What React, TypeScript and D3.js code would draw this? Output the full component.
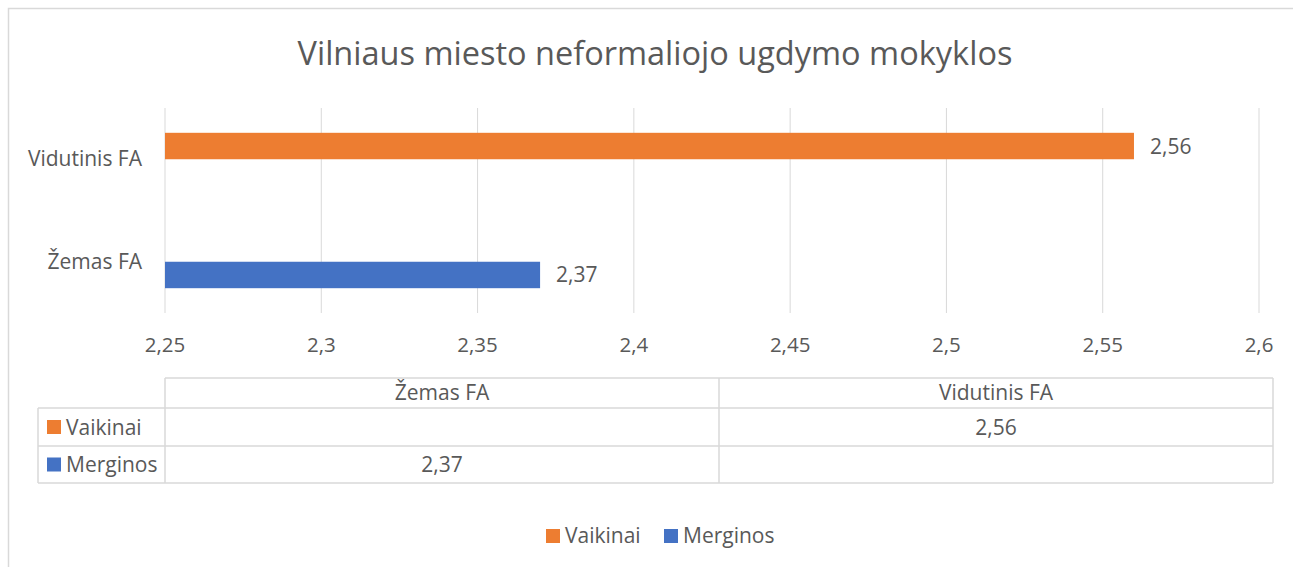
import React from "react";
import * as d3 from "d3";

const title = "Vilniaus miesto neformaliojo ugdymo mokyklos";
const categories = ["Žemas FA", "Vidutinis FA"];
const seriesNames = ["Vaikinai", "Merginos"];
const vaikinai: (number | null)[] = [null, 2.56];
const merginos: (number | null)[] = [2.37, null];
const tickValues = [2.25, 2.3, 2.35, 2.4, 2.45, 2.5, 2.55, 2.6];
const colors = ["#ED7D31", "#4472C4"];

const locale = d3.formatLocale({ decimal: ",", thousands: " ", grouping: [3], currency: ["", "€"] });
const fmt = locale.format("~g");

const FONT = "'Open Sans', 'Noto Sans', sans-serif";
const TXT = "#595959";
const GRID = "#D9D9D9";
const FS = 21;

export default function App() {
  const series = [vaikinai, merginos];
  const x = d3.scaleLinear().domain([2.25, 2.6]).range([165, 1259]);
  const y = d3.scaleBand().domain([...categories].reverse()).range([108, 313]);
  const bw = y.bandwidth();
  const inner = d3.scaleBand().domain(seriesNames).range([bw * 0.242, bw * 0.758]);

  const tLeft = 38, tColStart = 165, tRight = 1273;
  const rowTops = [378, 408, 446, 483];
  const col = d3.scaleBand().domain(categories).range([tColStart, tRight]);

  return (
    <svg width={1293} height={567} style={{ display: "block", position: "absolute", left: 0, top: 0 }}>
      <path d="M8.5,567 V8.5 H1293" fill="none" stroke={GRID} strokeWidth={1.5} />
      <text x={655} y={65} textAnchor="middle" fontFamily={FONT} fontSize={32.5} fill={TXT}>
        {title}
      </text>
      {tickValues.map((t) => (
        <line key={"g" + t} x1={x(t)} x2={x(t)} y1={108} y2={313} stroke={GRID} strokeWidth={1} />
      ))}
      {categories.map((c, ci) =>
        series.map((s, si) => {
          const v = s[ci];
          if (v == null) return null;
          const y0 = (y(c) as number) + (inner(seriesNames[si]) as number);
          return (
            <g key={c + si}>
              <rect x={x(2.25)} y={y0} width={x(v) - x(2.25)} height={inner.bandwidth()} fill={colors[si]} />
              <text x={x(v) + 16} y={y0 + inner.bandwidth() / 2 + 7.5} fontFamily={FONT} fontSize={FS} fill={TXT}>
                {fmt(v)}
              </text>
            </g>
          );
        })
      )}
      {categories.map((c) => (
        <text key={c} x={142} y={(y(c) as number) + bw / 2 + 7} textAnchor="end" fontFamily={FONT} fontSize={FS} fill={TXT}>
          {c}
        </text>
      ))}
      {tickValues.map((t) => (
        <text key={"t" + t} x={x(t)} y={352} textAnchor="middle" fontFamily={FONT} fontSize={20.5} fill={TXT}>
          {fmt(t)}
        </text>
      ))}
      <g stroke={GRID} strokeWidth={1.5} fill="none">
        <line x1={tColStart} x2={tRight} y1={rowTops[0]} y2={rowTops[0]} />
        {rowTops.slice(1).map((r) => (
          <line key={r} x1={tLeft} x2={tRight} y1={r} y2={r} />
        ))}
        <line x1={tLeft} x2={tLeft} y1={rowTops[1]} y2={rowTops[3]} />
        {categories.map((c) => (
          <line key={c} x1={col(c)} x2={col(c)} y1={rowTops[0]} y2={rowTops[3]} />
        ))}
        <line x1={tRight} x2={tRight} y1={rowTops[0]} y2={rowTops[3]} />
      </g>
      {categories.map((c) => (
        <text key={"h" + c} x={(col(c) as number) + col.bandwidth() / 2} y={400} textAnchor="middle" fontFamily={FONT} fontSize={FS} fill={TXT}>
          {c}
        </text>
      ))}
      {seriesNames.map((n, si) => {
        const top = rowTops[si + 1];
        const bottom = rowTops[si + 2];
        const mid = (top + bottom) / 2;
        return (
          <g key={n}>
            <rect x={47} y={mid - 7} width={14} height={14} fill={colors[si]} />
            <text x={66} y={mid + 7.5} fontFamily={FONT} fontSize={FS} fill={TXT}>
              {n}
            </text>
            {categories.map((c, ci) => {
              const v = series[si][ci];
              if (v == null) return null;
              return (
                <text key={c} x={(col(c) as number) + col.bandwidth() / 2} y={mid + 7.5} textAnchor="middle" fontFamily={FONT} fontSize={FS} fill={TXT}>
                  {fmt(v)}
                </text>
              );
            })}
          </g>
        );
      })}
      {seriesNames.map((n, si) => {
        const lx = [546, 664][si];
        return (
          <g key={"l" + n}>
            <rect x={lx} y={529} width={14} height={14} fill={colors[si]} />
            <text x={lx + 19} y={543} fontFamily={FONT} fontSize={FS} fill={TXT}>
              {n}
            </text>
          </g>
        );
      })}
    </svg>
  );
}
